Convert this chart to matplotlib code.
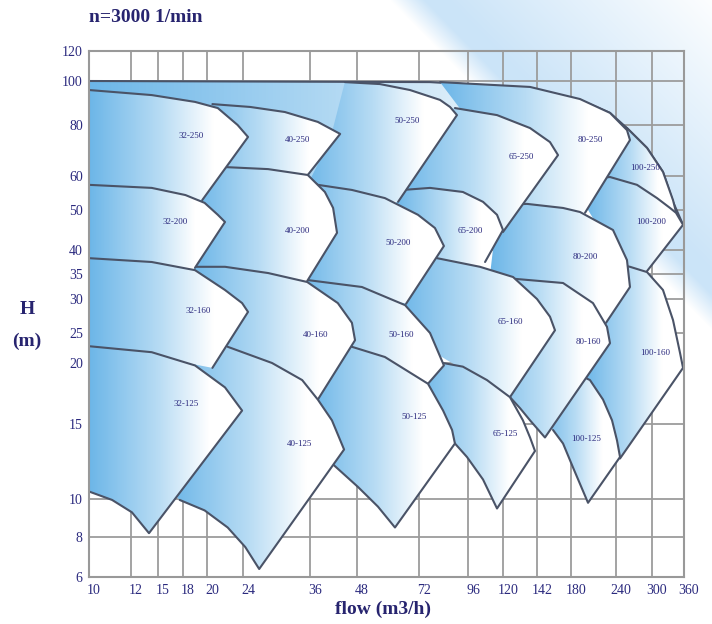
import numpy as np
import matplotlib
matplotlib.use('Agg')
import matplotlib.pyplot as plt
import matplotlib.transforms as mtransforms
from matplotlib.patches import Polygon
from matplotlib.colors import LinearSegmentedColormap

plt.rcParams['font.family'] = ['Liberation Serif', 'DejaVu Serif']

# ---- axes (irregular hand drawn grid of the catalogue chart) ----
x_ticks = [10, 12, 15, 18, 20, 24, 36, 48, 72, 96, 120, 142, 180, 240, 300, 360]
y_ticks = [6, 8, 10, 15, 20, 25, 30, 35, 40, 50, 60, 80, 100, 120]

# where every tick sits along its axis, fraction of the axis length
x_tick_pos = (np.array([89, 131, 158, 183, 207, 243, 310, 357, 419, 468,
                        503, 537, 571, 616, 652, 684]) - 89) / 595.0
y_tick_pos = (577 - np.array([577, 537, 499, 424, 363, 333, 299, 274, 250,
                              210, 176, 125, 81, 51])) / 526.0

# ---- pump fields: flow Q (m3/h) and head H (m) along each outline ----
q_env = [10, 77.4, 137.5, 192.0, 232.0, 258.3, 291.7, 320.6, 339.4, 358.2, 218.7, 34.2, 10]
h_env = [100, 99.5, 96.8, 91.4, 85.5, 78.8, 71.0, 61.6, 52.4, 46.3, 48.8, 55.9, 57.4]

q_32_250 = [10, 14.3, 19.0, 21.2, 23.4, 24.9, 19.6, 14.1, 10]
h_32_250 = [95.9, 93.6, 90.5, 87.7, 80.0, 75.3, 52.9, 54.4, 55.3]
q_32_200 = [10, 14.3, 18.2, 19.8, 21.2, 22.0, 19.0, 14.1, 10]
h_32_200 = [57.4, 56.5, 54.4, 52.1, 48.8, 47.0, 36.3, 36.7, 36.9]
q_32_160 = [10, 14.3, 19.0, 22.0, 23.9, 24.9, 20.6, 14.1, 10]
h_32_160 = [38.3, 37.5, 35.8, 31.8, 29.4, 28.1, 19.6, 21.2, 21.8]
q_32_125 = [10, 14.3, 19.0, 22.0, 23.9, 14.0, 12.1, 11.1, 10]
h_32_125 = [22.8, 21.8, 19.8, 18.0, 16.1, 8.2, 9.3, 9.95, 10.5]

q_40_250 = [20.6, 25.3, 31.5, 38.0, 43.7, 35.6, 27.0, 19.4, 19.0]
h_40_250 = [89.5, 88.2, 85.9, 81.4, 76.5, 60.4, 59.4, 59.4, 86.8]
q_40_200 = [20.3, 22.0, 28.5, 35.6, 39.8, 41.9, 42.9, 35.5, 28.8, 19.0, 19.0]
h_40_200 = [63.9, 63.5, 62.7, 60.4, 55.3, 50.6, 44.3, 33.6, 33.2, 33.2, 55.9]
q_40_160 = [19.0, 22.0, 28.5, 35.5, 43.1, 46.7, 47.5, 38.0, 30.6, 19.4, 18.6]
h_40_160 = [36.5, 36.5, 35.2, 33.4, 29.4, 26.5, 23.8, 17.0, 17.8, 20.5, 34.8]
q_40_125 = [22.3, 29.2, 34.6, 38.0, 41.6, 44.7, 26.9, 24.4, 22.3, 19.8, 17.6, 16.4, 17.0]
h_40_125 = [22.7, 20.0, 18.6, 17.0, 15.3, 13.3, 6.4, 7.5, 8.5, 9.4, 9.95, 10.6, 22.2]

q_50_250 = [44.9, 56.9, 68.5, 82.3, 87.2, 90.6, 63.9, 49.2, 35.1, 41.1]
h_50_250 = [99.5, 98.6, 95.9, 91.4, 88.2, 84.5, 52.4, 53.5, 55.9, 74.1]
q_50_200 = [36.0, 38.0, 46.7, 58.8, 71.6, 79.8, 84.2, 67.0, 49.2, 34.2, 34.2]
h_50_200 = [58.8, 57.4, 55.9, 53.5, 48.8, 45.5, 41.0, 29.3, 31.4, 31.8, 57.4]
q_50_160 = [34.2, 35.5, 49.9, 66.6, 77.4, 84.2, 76.4, 56.9, 38.6, 34.2]
h_50_160 = [33.4, 33.8, 32.4, 29.1, 25.0, 19.8, 18.3, 19.8, 21.3, 31.8]
q_50_125 = [41.1, 46.7, 58.8, 76.4, 83.8, 88.2, 89.6, 62.7, 56.1, 48.4, 41.9, 36.0, 36.0]
h_50_125 = [23.5, 22.7, 21.0, 18.3, 16.1, 14.6, 13.7, 8.5, 9.6, 10.8, 12.3, 12.6, 22.2]

q_65_250 = [89.6, 115.9, 137.5, 156.5, 165.5, 120.0, 97.4, 64.6, 70.5, 84.7]
h_65_250 = [87.7, 84.5, 78.8, 73.3, 68.2, 44.5, 46.3, 51.5, 70.2, 86.8]
q_65_200 = [65.8, 77.4, 93.5, 106.3, 115.9, 120.0, 107.7, 92.1, 77.4, 72.5, 62.7]
h_65_200 = [55.9, 56.5, 55.3, 52.4, 48.8, 45.0, 37.5, 36.3, 35.8, 40.0, 51.5]
q_65_160 = [80.8, 104.2, 126.5, 142.0, 156.5, 162.1, 124.5, 104.2, 77.4, 64.6, 72.5]
h_65_160 = [38.3, 36.5, 34.4, 30.0, 27.4, 25.4, 17.2, 18.6, 22.2, 29.85, 37.5]
q_65_125 = [83.8, 93.5, 109.0, 124.5, 132.9, 137.5, 140.7, 115.9, 106.3, 95.5, 89.6, 72.5, 74.9]
h_65_125 = [20.0, 19.7, 18.6, 17.2, 15.3, 14.1, 13.2, 9.5, 11.3, 12.8, 13.7, 14.6, 19.4]

q_80_250 = [82.3, 137.5, 192.0, 232.0, 258.3, 263.3, 198.7, 127.8, 97.4]
h_80_250 = [99.5, 97.3, 91.8, 85.5, 78.0, 74.1, 49.3, 50.9, 81.4]
q_80_200 = [121.3, 135.5, 171.1, 192.0, 236.0, 258.3, 263.3, 226.7, 205.3, 127.8, 111.1, 114.5]
h_80_200 = [51.5, 51.8, 50.6, 49.5, 45.0, 37.9, 32.4, 26.5, 27.6, 32.8, 34.8, 44.5]
q_80_160 = [121.3, 171.1, 209.3, 228.0, 232.0, 150.9, 137.5, 131.0, 124.5, 104.2, 111.1]
h_80_160 = [34.2, 33.2, 29.4, 25.9, 23.3, 14.1, 15.3, 16.3, 17.2, 18.6, 29.9]

q_100_250 = [225.3, 258.3, 291.7, 320.6, 339.4, 345.0, 296.7, 232.0, 212.0]
h_100_250 = [84.5, 78.8, 71.0, 61.6, 52.9, 49.5, 51.5, 57.4, 62.4]
q_100_200 = [216.0, 232.0, 275.0, 309.4, 333.8, 345.0, 358.2, 291.7, 263.3, 238.7, 198.7]
h_100_200 = [59.4, 59.7, 57.4, 53.5, 50.6, 49.3, 46.3, 35.6, 34.6, 39.0, 51.5]
q_100_160 = [255.0, 263.3, 291.7, 320.6, 339.4, 352.5, 358.2, 246.7, 218.7, 198.7, 218.7, 246.7]
h_100_160 = [36.7, 36.5, 35.4, 31.8, 26.9, 21.7, 19.6, 12.7, 14.9, 19.4, 26.9, 33.8]
q_100_125 = [198.7, 205.3, 222.7, 234.7, 241.7, 246.7, 202.7, 182.7, 171.1, 159.9, 145.4, 185.3]
h_100_125 = [18.8, 18.6, 17.0, 15.3, 13.9, 12.8, 9.8, 12.1, 13.7, 14.6, 15.3, 18.2]

# field names and where the name is written
names = ['32-250', '40-250', '50-250', '65-250', '80-250', '100-250',
         '32-200', '40-200', '50-200', '65-200', '80-200', '100-200',
         '32-160', '40-160', '50-160', '65-160', '80-160', '100-160',
         '32-125', '40-125', '50-125', '65-125', '100-125']
label_q = [18.7, 33.7, 67.4, 131.7, 205.3, 288.3,
           17.0, 33.7, 63.9, 97.4, 198.7, 298.3,
           19.25, 37.5, 65.0, 124.5, 202.7, 305.6,
           18.3, 34.2, 70.1, 121.3, 200.0]
label_h = [75.7, 74.1, 81.8, 67.5, 74.1, 63.1,
           47.0, 44.75, 41.75, 44.75, 38.5, 47.0,
           28.2, 24.7, 24.7, 26.6, 23.5, 21.7,
           16.6, 13.7, 15.6, 14.3, 14.0]

NAVY = '#2b2a7e'
EDGE = '#4a5367'


def fx(v):
    return np.interp(v, x_ticks, x_tick_pos)


def fx_inv(p):
    return np.interp(p, x_tick_pos, x_ticks)


def fy(v):
    return np.interp(v, y_ticks, y_tick_pos)


def fy_inv(p):
    return np.interp(p, y_tick_pos, y_ticks)


fig = plt.figure(figsize=(7.12, 6.24), dpi=100, facecolor='white')

# light blue swoosh behind everything
bg = fig.add_axes([0, 0, 1, 1], zorder=-10)
yy, xx = np.mgrid[0:624, 0:712]
s = ((xx - 390) * 330.0 - yy * 322.0) / 461.0
band = np.clip(s / 25.0, 0, 1) * np.clip(1 - (s - 40) / 200.0, 0, 1)
sw = np.array([203, 228, 248]) / 255.0
bg.imshow(1 - band[..., None] * (1 - sw), extent=[0, 712, 624, 0], aspect='auto')
bg.set_xlim(0, 712)
bg.set_ylim(624, 0)
bg.axis('off')

ax = fig.add_axes([89 / 712, 47 / 624, 595 / 712, 526 / 624])
ax.set_facecolor('none')
ax.set_xscale('function', functions=(fx, fx_inv))
ax.set_yscale('function', functions=(fy, fy_inv))
ax.set_xlim(10, 360)
ax.set_ylim(6, 120)

ax.set_xticks(x_ticks)
ax.set_xticklabels([str(t) for t in x_ticks])
ax.set_yticks(y_ticks)
ax.set_yticklabels([str(t) for t in y_ticks])
ax.minorticks_off()
ax.tick_params(length=0, labelsize=10, labelcolor=NAVY)
ax.tick_params(axis='x', pad=5)
ax.tick_params(axis='y', pad=4.5)
shift = mtransforms.ScaledTranslation(0.05, 0, fig.dpi_scale_trans)
for lab in ax.get_xticklabels():
    lab.set_transform(lab.get_transform() + shift)

ax.grid(True, color='#9c9c9c', lw=1.3, zorder=0.5)
ax.set_axisbelow(True)
for sp in ax.spines.values():
    sp.set_color('#999999')
    sp.set_linewidth(1.5)

cmap = LinearSegmentedColormap.from_list(
    'tile', [(0, '#6cb6e8'), (0.45, '#b8dcf4'), (0.78, '#ffffff'), (1, '#ffffff')])
ramp = np.linspace(0, 1, 256)[None, :]


def field(q, h, n_edge, z):
    poly = Polygon(np.column_stack([q, h]), closed=True, fc='none', ec='none', zorder=z)
    ax.add_patch(poly)
    x0, x1 = fx(min(q)), fx(max(q))
    y0, y1 = fy(min(h)), fy(max(h))
    im = ax.imshow(ramp, cmap=cmap, extent=[x0, x1, y0, y1], transform=ax.transAxes,
                   aspect='auto', interpolation='bilinear', zorder=z)
    im.set_clip_path(poly)
    # only the outline part that stays in sight is stroked
    ax.plot(q[:n_edge], h[:n_edge], color=EDGE, lw=1.5, zorder=z + 0.01,
            solid_joinstyle='round', solid_capstyle='round')


# right column first, left ones lie on top; inside a column top to bottom
order = [
    (q_env, h_env, 10),
    (q_100_250, h_100_250, 6), (q_100_200, h_100_200, 8),
    (q_100_160, h_100_160, 8), (q_100_125, h_100_125, 10),
    (q_80_250, h_80_250, 7), (q_80_200, h_80_200, 8), (q_80_160, h_80_160, 9),
    (q_65_250, h_65_250, 6), (q_65_200, h_65_200, 7),
    (q_65_160, h_65_160, 7), (q_65_125, h_65_125, 11),
    (q_50_250, h_50_250, 7), (q_50_200, h_50_200, 8),
    (q_50_160, h_50_160, 7), (q_50_125, h_50_125, 11),
    (q_40_250, h_40_250, 6), (q_40_200, h_40_200, 8),
    (q_40_160, h_40_160, 8), (q_40_125, h_40_125, 11),
    (q_32_250, h_32_250, 7), (q_32_200, h_32_200, 7),
    (q_32_160, h_32_160, 7), (q_32_125, h_32_125, 9),
]
for i, (q, h, ne) in enumerate(order):
    field(q, h, ne, 2 + 0.02 * i)

for n, q, h in zip(names, label_q, label_h):
    ax.text(q, h, n, ha='center', va='center', fontsize=6.5, color=NAVY, zorder=20)

ax.set_xlim(10, 360)
ax.set_ylim(6, 120)

fig.text(89 / 712, 1 - 17 / 624, 'n=3000 1/min', ha='left', va='center',
         fontsize=14, fontweight='bold', color='#27246f')
fig.text(27 / 712, 1 - 310 / 624, 'H', ha='center', va='center',
         fontsize=14, fontweight='bold', color='#27246f')
fig.text(27 / 712, 1 - 341 / 624, '(m)', ha='center', va='center',
         fontsize=14, fontweight='bold', color='#27246f')
fig.text(383 / 712, 1 - 609 / 624, 'flow (m3/h)', ha='center', va='center',
         fontsize=14, fontweight='bold', color='#27246f')

fig.savefig('out.png', dpi=100)
